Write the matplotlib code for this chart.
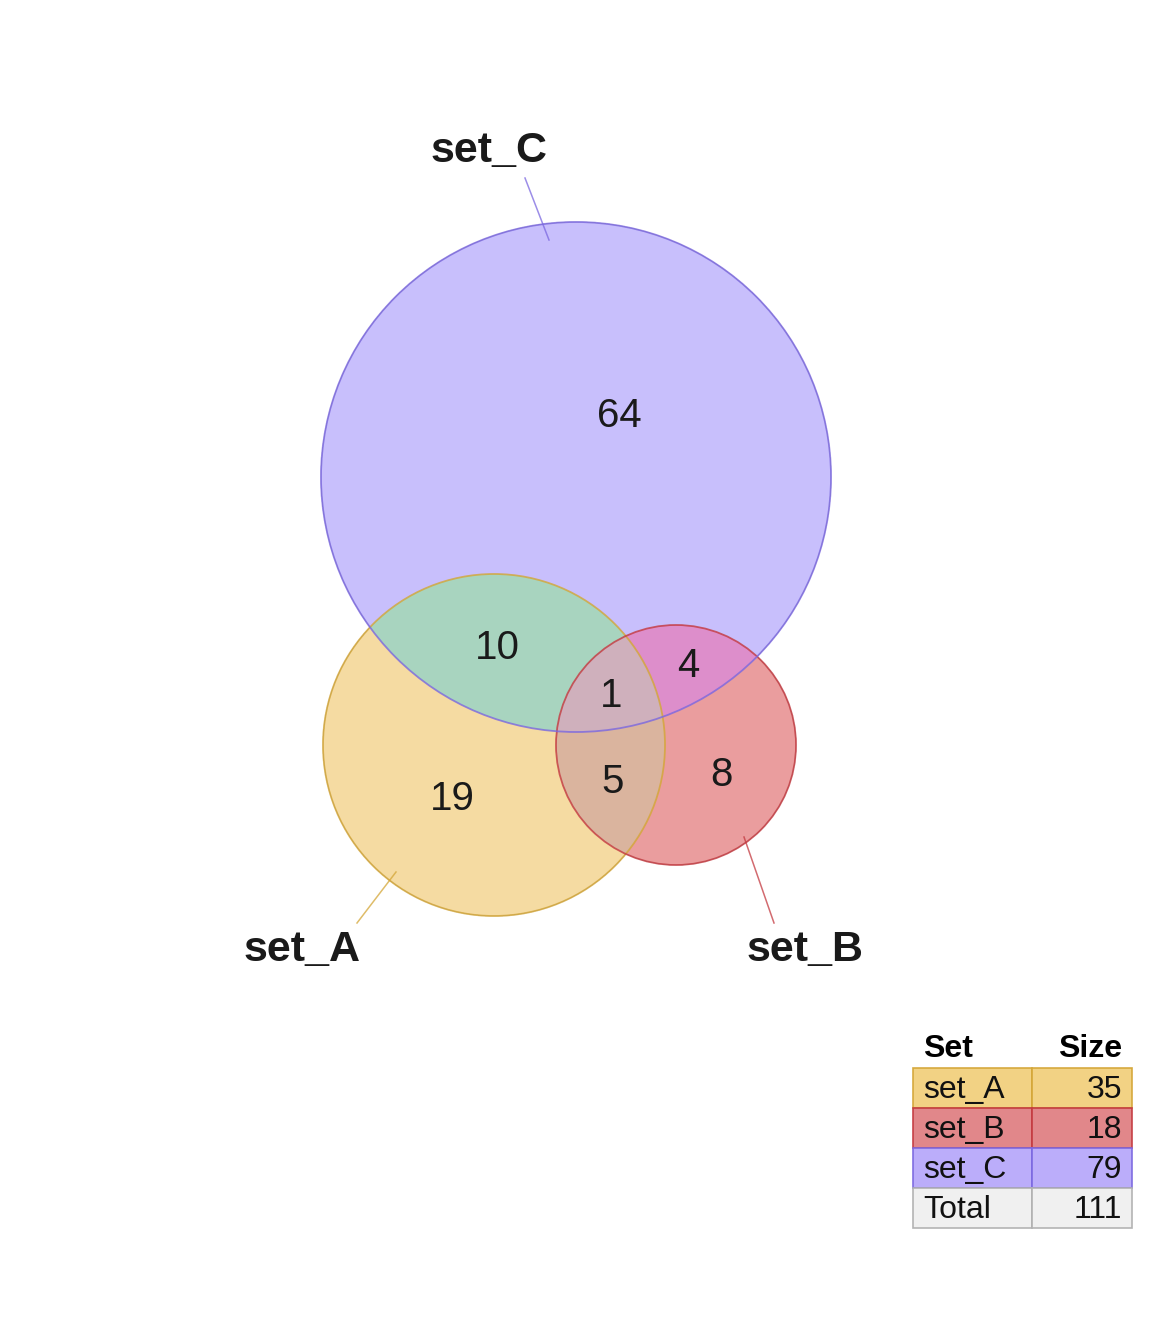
import numpy as np
import matplotlib
matplotlib.use("Agg")
import matplotlib.pyplot as plt
from matplotlib.patches import Circle, Rectangle

plt.rcParams['font.family'] = ['Liberation Sans', 'DejaVu Sans']

# data
set_names = ["set_A", "set_B", "set_C"]
set_sizes = [35, 18, 79]
total = 111
# region counts: A only, B only, C only, AB, AC, BC, ABC
region_keys = ["A", "B", "C", "AB", "AC", "BC", "ABC"]
region_counts = [19, 8, 64, 5, 10, 4, 1]

# layout (pixel space)
centers = {"A": (494, 745), "B": (676, 745), "C": (576, 477)}
radii = {"A": 171, "B": 120, "C": 255}
edge_cols = {"A": "#d4a637", "B": "#c43a40", "C": "#7b68e0"}
region_cols = {"A": "#f5dba2", "B": "#eb9d9f", "C": "#c8bffc",
               "AB": "#dab59f", "AC": "#a8d5bf", "BC": "#dd8ecb", "ABC": "#cfb1bc"}
label_pos = {"A": (452, 799), "B": (721, 775), "C": (619, 416),
             "AB": (613, 782), "AC": (497, 648), "BC": (688, 666), "ABC": (611, 696)}
table_cols = ["#f2d07d", "#e08184", "#b8a9fa"]

fig = plt.figure(figsize=(11.52, 13.44), dpi=100)
ax = fig.add_axes([0, 0, 1, 1])
ax.set_xlim(0, 1152)
ax.set_ylim(1344, 0)
ax.axis("off")

# region fills via raster
x0, x1, y0, y1 = 300, 850, 200, 940
xs = np.arange(x0, x1, 0.5) + 0.25
ys = np.arange(y0, y1, 0.5) + 0.25
X, Y = np.meshgrid(xs, ys)
inside = {k: (X - centers[k][0]) ** 2 + (Y - centers[k][1]) ** 2 <= radii[k] ** 2
          for k in "ABC"}
img = np.zeros(X.shape + (4,))
for key in region_keys:
    m = np.ones(X.shape, bool)
    for k in "ABC":
        m &= inside[k] if k in key else ~inside[k]
    img[m] = matplotlib.colors.to_rgba(region_cols[key])
ax.imshow(img, extent=(x0, x1, y1, y0), interpolation="antialiased", zorder=1)

for k in "ABC":
    ax.add_patch(Circle(centers[k], radii[k], fill=False, ec=edge_cols[k],
                        lw=1.3, alpha=0.8, zorder=2))

for key, cnt in zip(region_keys, region_counts):
    ax.text(*label_pos[key], str(cnt), fontsize=29, color="#1a1a1a",
            ha="center", va="center", zorder=3)

# set labels with leader lines
leaders = {"A": ((357, 923), (396, 872), (302, 950)),
           "B": ((774, 923), (744, 837), (805, 950)),
           "C": ((525, 178), (549, 240), (489, 151))}
for k, name in zip("ABC", set_names):
    p, q, t = leaders[k]
    ax.plot([p[0], q[0]], [p[1], q[1]], color=edge_cols[k], lw=1.1, alpha=0.75, zorder=3)
    ax.text(*t, name, fontsize=31, fontweight="bold", color="#1a1a1a",
            ha="center", va="center", zorder=3)

# table
tx0, tx1, tx2 = 913, 1032, 1132
ty = 1049
ax.text(tx0 + 10, ty, "Set", fontsize=23, fontweight="bold", ha="left", va="center")
ax.text(tx2 - 10, ty, "Size", fontsize=23, fontweight="bold", ha="right", va="center")
rows = list(zip(set_names, set_sizes, table_cols, list(edge_cols.values())))
rows.append(("Total", total, "#f0f0f0", "#b0b0b0"))
for i, (name, size, fc, ec) in enumerate(rows):
    top = 1068 + 40 * i
    for a, b in ((tx0, tx1), (tx1, tx2)):
        ax.add_patch(Rectangle((a, top), b - a, 40, fc=fc, ec=ec, lw=1.2, alpha=0.95))
    ax.text(tx0 + 10, top + 22, name, fontsize=23, ha="left", va="center", color="#111111")
    ax.text(tx2 - 10, top + 22, str(size), fontsize=23, ha="right", va="center", color="#111111")

fig.savefig("out.png", dpi=100)
